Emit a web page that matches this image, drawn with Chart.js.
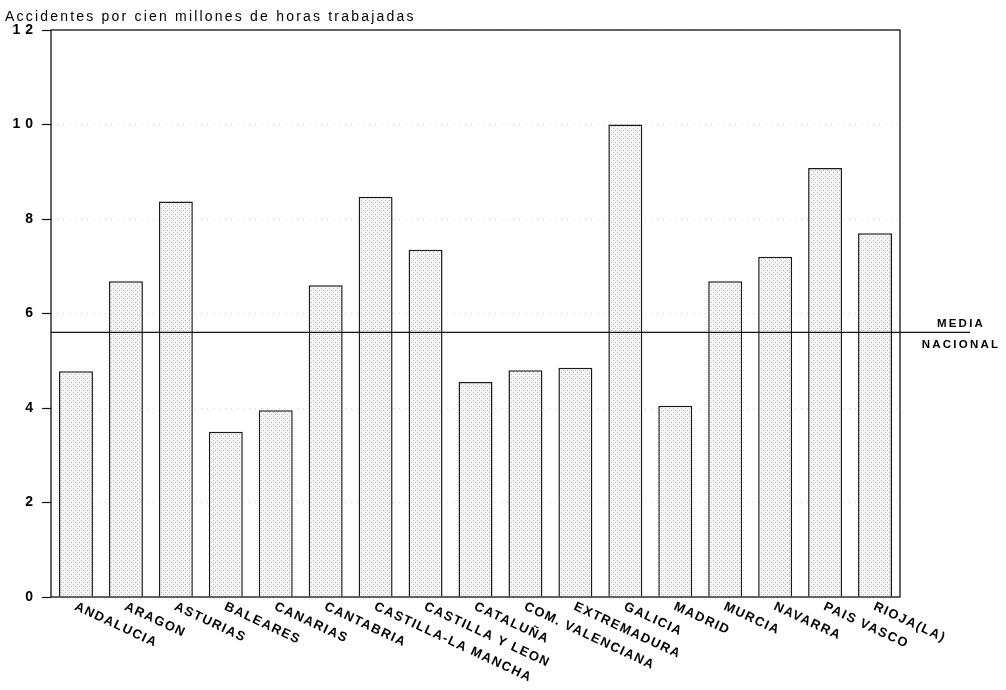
<!DOCTYPE html>
<html>
<head>
<meta charset="utf-8">
<script src="https://cdn.jsdelivr.net/npm/chart.js@4/dist/chart.umd.min.js"></script>
<style>
html, body { margin: 0; padding: 0; background: #fff; }
</style>
</head>
<body>
<canvas id="barChart" width="1006" height="690"></canvas>
<script>
var regiones = ['ANDALUCIA', 'ARAGON', 'ASTURIAS', 'BALEARES', 'CANARIAS', 'CANTABRIA',
	'CASTILLA-LA MANCHA', 'CASTILLA Y LEON', 'CATALUÑA', 'COM. VALENCIANA', 'EXTREMADURA',
	'GALICIA', 'MADRID', 'MURCIA', 'NAVARRA', 'PAIS VASCO', 'RIOJA(LA)']
var accidentes = [4.78, 6.68, 8.37, 3.5, 3.95, 6.6, 8.47, 7.35, 4.55, 4.8, 4.85, 10.0, 4.05, 6.68, 7.2, 9.08, 7.7]
var mediaNacional = 5.6
var yTicks = [0, 2, 4, 6, 8, 10, 12]
var titulo = 'Accidentes por cien millones de horas trabajadas'
var mediaTexto = ['MEDIA', 'NACIONAL']

var fuente = '"Liberation Sans", Arial, Helvetica, sans-serif'

var ctx = document.getElementById('barChart').getContext('2d')

// punteado gris claro de las barras
function punteado() {
	var c = document.createElement('canvas')
	c.width = 4
	c.height = 4
	var p = c.getContext('2d')
	p.fillStyle = '#f6f6f6'
	p.fillRect(0, 0, 4, 4)
	p.fillStyle = '#bcbcbc'
	p.fillRect(1, 0, 1, 1)
	p.fillRect(3, 2, 1, 1)
	p.fillStyle = '#dedede'
	p.fillRect(1, 2, 1, 1)
	return ctx.createPattern(c, 'repeat')
}

// espaciado de letras para los numeros del eje
var espaciado = {
	id: 'espaciado',
	beforeDraw: function (chart) {
		chart.ctx.letterSpacing = '5px'
	}
}

var marco = {
	id: 'marco',
	afterDatasetsDraw: function (chart) {
		var a = chart.chartArea
		var c = chart.ctx
		c.save()
		c.strokeStyle = '#111'
		c.lineWidth = 1.3
		c.strokeRect(a.left, a.top, a.right - a.left, a.bottom - a.top)

		// linea de la media nacional
		var y = chart.scales.y.getPixelForValue(mediaNacional)
		c.beginPath()
		c.moveTo(a.left, y)
		c.lineTo(970, y)
		c.lineWidth = 1.2
		c.stroke()
		c.fillStyle = '#000'
		c.font = 'bold 11.5px ' + fuente
		c.letterSpacing = '2.2px'
		c.textAlign = 'center'
		c.textBaseline = 'alphabetic'
		c.fillText(mediaTexto[0], 961, y - 5)
		c.fillText(mediaTexto[1], 961, y + 16)
		c.restore()
	}
}

var etiquetas = {
	id: 'etiquetas',
	afterDraw: function (chart) {
		var c = chart.ctx
		var x = chart.scales.x
		var base = chart.chartArea.bottom
		c.save()
		c.fillStyle = '#000'
		c.font = 'bold 13px ' + fuente
		c.letterSpacing = '1.4px'
		c.textAlign = 'left'
		c.textBaseline = 'top'
		for (var i = 0; i < regiones.length; i++) {
			c.save()
			c.translate(x.getPixelForValue(i) + 2, base + 3)
			c.rotate(25 * Math.PI / 180)
			c.fillText(regiones[i], 0, 0)
			c.restore()
		}
		// titulo
		c.font = '14px ' + fuente
		c.letterSpacing = '2.2px'
		c.textBaseline = 'alphabetic'
		c.fillText(titulo, 5, 21)
		c.restore()
	}
}

var myBarChart = new Chart(ctx, {
	type: 'bar',
	data: {
		labels: regiones,
		datasets: [{
			data: accidentes,
			backgroundColor: punteado(),
			borderColor: '#1a1a1a',
			borderWidth: 1.5,
			borderSkipped: 'start',
			barPercentage: 0.68,
			categoryPercentage: 1.0
		}]
	},
	options: {
		responsive: false,
		animation: false,
		devicePixelRatio: 1,
		layout: {
			padding: { left: 0, top: 30, right: 106, bottom: 93 }
		},
		plugins: {
			legend: { display: false },
			tooltip: { enabled: false }
		},
		scales: {
			x: {
				grid: { display: false },
				border: { display: false },
				ticks: { display: false },
				afterFit: function (s) { s.height = 0 }
			},
			y: {
				min: 0,
				max: 12,
				afterBuildTicks: function (s) {
					s.ticks = yTicks.map(function (v) { return { value: v } })
				},
				afterFit: function (s) { s.width = 51 },
				border: { display: false, dash: [1, 5] },
				grid: {
					color: 'rgba(0,0,0,0.18)',
					lineWidth: 1,
					tickLength: 9,
					tickColor: '#111',
					tickWidth: 1.2
				},
				ticks: {
					padding: 4,
					color: '#000',
					font: { family: fuente, size: 14, weight: 'bold' }
				}
			}
		}
	},
	plugins: [espaciado, marco, etiquetas]
})
</script>
</body>
</html>
